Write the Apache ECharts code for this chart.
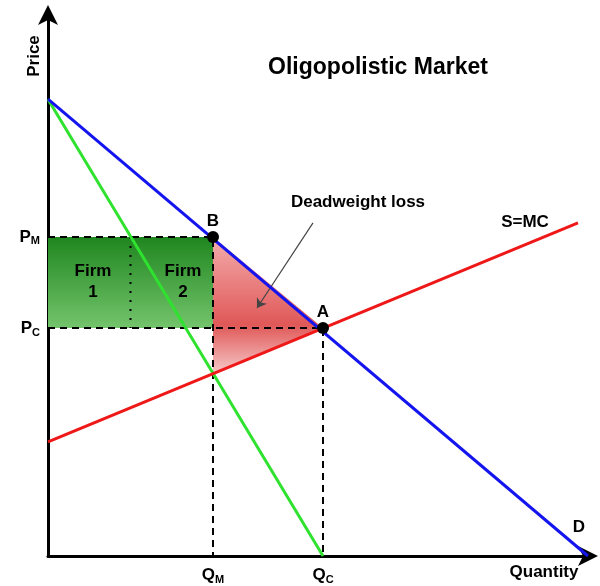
<!DOCTYPE html>
<html>
<head>
<meta charset="utf-8">
<script src="https://cdn.jsdelivr.net/npm/echarts@6/dist/echarts.min.js"></script>
<style>
html,body{margin:0;padding:0;background:#fff;}
#chart{width:600px;height:586px;}
</style>
</head>
<body>
<div id="chart"></div>
<script>
// ---- data ----
const titleText = 'Oligopolistic Market';
const demand = [[0, 9.12], [10.8, 0]];
const marginalRevenue = [[0, 9.12], [5.5, 0]];
const supplyMC = [[0, 2.28], [10.6, 6.65]];
const QM = 3.3, PM = 6.37, QC = 5.5, PC = 4.55;
const mcAtQM = 3.67;
const equilibriumPoints = [[QM, PM, 'B'], [QC, PC, 'A']];
const priceTicks = [PC, PM];
const priceTickNames = ['C', 'M'];
const quantityTicks = [QM, QC];
const quantityTickNames = ['M', 'C'];
const annotations = [
  [0.9, 5.47, 'Firm\n1'],
  [2.7, 5.47, 'Firm\n2'],
  [6.2, 7.07, 'Deadweight loss'],
  [9.54, 6.67, 'S=MC'],
  [10.62, 0.58, 'D']
];
const arrowFrom = [5.3, 6.65];
const arrowTo = [4.18, 4.95];

// ---- chart ----
const FONT = '"Liberation Sans", Arial, Helvetica, sans-serif';
const chart = echarts.init(document.getElementById('chart'), null, {renderer: 'canvas'});

const producerRect = [[0, PM], [QM, PM], [QM, PC], [0, PC]];
const dwlTriangle = [[QM, PM], [QC, PC], [QM, mcAtQM]];

function polySeries(points, fill, z) {
  return {
    type: 'custom', z: z, silent: true, data: [0],
    renderItem: function (params, api) {
      return {type: 'polygon', shape: {points: points.map(p => api.coord(p))}, style: {fill: fill}};
    }
  };
}

const subRich = {
  b: {fontSize: 17, fontWeight: 'bold', color: '#000', fontFamily: FONT},
  s: {fontSize: 11, fontWeight: 'bold', color: '#000', fontFamily: FONT, padding: [9, 0, 0, 0]}
};

const axisLineStyle = {show: true, lineStyle: {color: '#000', width: 3}, symbol: ['none', 'arrow'], symbolSize: [15, 20], symbolOffset: [0, 10]};

const option = {
  animation: false,
  backgroundColor: '#fff',
  grid: {left: 48, right: 12, top: 15, bottom: 30},
  xAxis: {
    type: 'value', min: 0, max: 10.8,
    axisLine: axisLineStyle,
    axisTick: {show: false}, splitLine: {show: false},
    axisLabel: {
      customValues: quantityTicks, margin: 9,
      formatter: v => '{b|Q}{s|' + quantityTickNames[quantityTicks.indexOf(v)] + '}',
      rich: subRich
    }
  },
  yAxis: {
    type: 'value', min: 0, max: 10.8,
    axisLine: axisLineStyle,
    axisTick: {show: false}, splitLine: {show: false},
    axisLabel: {
      customValues: priceTicks, margin: 8,
      formatter: v => '{b|P}{s|' + priceTickNames[priceTicks.indexOf(v)] + '}',
      rich: subRich
    }
  },
  graphic: [
    {type: 'text', x: 378, y: 68, style: {text: titleText, font: 'bold 23px ' + FONT, fill: '#000', align: 'center', verticalAlign: 'middle'}},
    {type: 'text', x: 34, y: 56, rotation: Math.PI / 2, style: {text: 'Price', font: 'bold 17px ' + FONT, fill: '#000', align: 'center', verticalAlign: 'middle'}},
    {type: 'text', x: 544, y: 572, style: {text: 'Quantity', font: 'bold 17px ' + FONT, fill: '#000', align: 'center', verticalAlign: 'middle'}}
  ],
  series: [
    polySeries(producerRect, new echarts.graphic.LinearGradient(0, 0, 0, 1, [
      {offset: 0, color: '#1f861f'}, {offset: 1, color: '#74c46c'}]), 1),
    polySeries(dwlTriangle, new echarts.graphic.LinearGradient(0, 0, 0, 1, [
      {offset: 0, color: '#f4acac'}, {offset: 0.65, color: '#e05858'}, {offset: 1, color: '#f6c6c6'}]), 1),
    {type: 'line', z: 3, data: [[0, PM], [QM, PM], [QM, 0]], symbol: 'none', lineStyle: {color: '#000', width: 2, type: [7, 5]}},
    {type: 'line', z: 3, data: [[0, PC], [QC, PC], [QC, 0]], symbol: 'none', lineStyle: {color: '#000', width: 2, type: [7, 5]}},
    {type: 'line', z: 3, data: [[QM / 2, PM], [QM / 2, PC]], symbol: 'none', lineStyle: {color: '#000', width: 2, type: [2, 7]}},
    {type: 'line', z: 4, data: marginalRevenue, symbol: 'none', lineStyle: {color: '#2fe22f', width: 3}},
    {type: 'line', z: 4, data: supplyMC, symbol: 'none', lineStyle: {color: '#ee1818', width: 3}},
    {type: 'line', z: 5, data: demand, symbol: 'none', lineStyle: {color: '#1414ee', width: 3},
      markLine: {
        silent: true, symbol: ['none', 'arrow'], symbolSize: 9,
        lineStyle: {color: '#444', width: 1.2, type: 'solid'}, label: {show: false},
        data: [[{coord: arrowFrom}, {coord: arrowTo}]]
      }},
    {type: 'scatter', z: 6, data: equilibriumPoints, symbolSize: 12, itemStyle: {color: '#000', opacity: 1},
      label: {show: true, position: 'top', distance: 1, formatter: p => p.value[2],
        fontSize: 17, fontWeight: 'bold', color: '#000', opacity: 1, fontFamily: FONT}},
    {type: 'scatter', z: 7, data: annotations, symbolSize: 0, silent: true, itemStyle: {opacity: 1},
      label: {show: true, position: 'inside', formatter: p => p.value[2],
        fontSize: 17, lineHeight: 21, fontWeight: 'bold', color: '#000', opacity: 1, fontFamily: FONT}}
  ]
};
chart.setOption(option);
</script>
</body>
</html>
